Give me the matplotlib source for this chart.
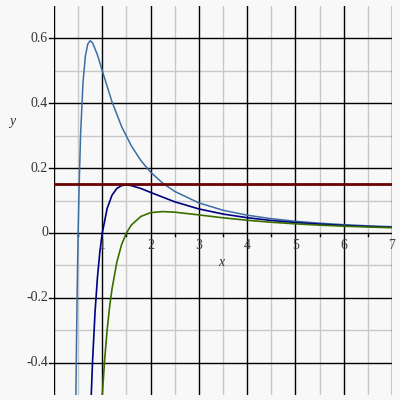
import matplotlib

matplotlib.use("Agg")

import matplotlib.pyplot as plt
import numpy as np

# curve samples
x_light = [0.453, 0.46, 0.47, 0.48, 0.49, 0.50, 0.52, 0.55, 0.60, 0.65, 0.70, 0.75,
           0.80, 0.90, 1.0, 1.2, 1.4, 1.6, 1.8, 2.0, 2.25, 2.5, 3.0, 3.5, 4.0,
           4.5, 5.0, 5.5, 6.0, 6.5, 7.0]
y_light = [-0.50, -0.411, -0.289, -0.181, -0.085, 0.0, 0.142, 0.301, 0.463, 0.546,
           0.583, 0.593, 0.586, 0.549, 0.50, 0.405, 0.328, 0.269, 0.223, 0.1875,
           0.1536, 0.128, 0.0926, 0.070, 0.0547, 0.0439, 0.036, 0.030, 0.0255,
           0.0218, 0.019]

x_navy = [0.77, 0.80, 0.85, 0.90, 0.95, 1.0, 1.1, 1.2, 1.3, 1.4, 1.5, 1.6, 1.8,
          2.0, 2.5, 3.0, 3.5, 4.0, 4.5, 5.0, 5.5, 6.0, 6.5, 7.0]
y_navy = [-0.504, -0.391, -0.244, -0.137, -0.058, 0.0, 0.075, 0.116, 0.137, 0.146,
          0.148, 0.146, 0.137, 0.125, 0.096, 0.074, 0.0583, 0.0469, 0.0384, 0.032,
          0.027, 0.0231, 0.020, 0.0175]

x_green = [1.0, 1.05, 1.1, 1.15, 1.2, 1.3, 1.4, 1.5, 1.6, 1.8, 2.0, 2.25, 2.5,
           3.0, 3.5, 4.0, 4.5, 5.0, 5.5, 6.0, 6.5, 7.0]
y_green = [-0.50, -0.389, -0.30, -0.23, -0.174, -0.091, -0.036, 0.0, 0.024, 0.051,
           0.0625, 0.0658, 0.064, 0.0556, 0.0466, 0.039, 0.0329, 0.028, 0.024,
           0.0208, 0.0182, 0.016]

level = 0.15

x_ticks = [1, 2, 3, 4, 5, 6, 7]
y_ticks = [-0.4, -0.2, 0.0, 0.2, 0.4, 0.6]
y_tick_labels = ["-0.4", "-0.2", "0", "0.2", "0.4", "0.6"]

bg = "#f8f8f8"
fig = plt.figure(figsize=(4, 4), dpi=100, facecolor=bg)
ax = fig.add_axes([0.135, 0.0125, 0.845, 0.9725], facecolor=bg)
ax.set_xlim(0, 7)
ax.set_ylim(-0.5, 0.7)

# grid
for v in np.arange(0.5, 7.0, 1.0):
    ax.axvline(v, color="#c8c8c8", lw=1, zorder=1)
for v in [-0.3, -0.1, 0.1, 0.3, 0.5]:
    ax.axhline(v, color="#c8c8c8", lw=1, zorder=1)
for v in range(0, 8):
    ax.axvline(v, color="black", lw=1, zorder=2)
for v in y_ticks:
    ax.axhline(v, color="black", lw=1, zorder=2)

ax.plot(x_light, y_light, color="#3a6ea5", lw=1.1, zorder=4)
ax.plot(x_navy, y_navy, color="#000080", lw=1.2, zorder=4)
ax.plot(x_green, y_green, color="#3a6e00", lw=1.2, zorder=4)
ax.axhline(level, color="#6b0000", lw=2, zorder=5)

for s in ax.spines.values():
    s.set_visible(False)
ax.set_xticks([])
ax.set_yticks([])

serif = ["Liberation Serif", "DejaVu Serif"]
for v, lab in zip(y_ticks, y_tick_labels):
    ax.text(-0.125, v, lab, ha="right", va="center",
            fontsize=10, family=serif, color="#333333", clip_on=False)
    ax.plot([-0.1, 0], [v, v], color="black", lw=1, zorder=3, clip_on=False)
for v in x_ticks:
    ax.text(v, -0.02, str(v), ha="center", va="top", fontsize=10,
            family=serif, color="#444444")
# minor ticks on the x axis
for v in np.arange(0.5, 7.0, 1.0):
    ax.plot([v, v], [0, -0.01], color="black", lw=1, zorder=3)

ax.text(3.47, -0.09, "x", ha="center", va="center", fontsize=10,
        family=serif, style="italic", color="#333333")
fig.text(12 / 400, 1 - 121 / 400, "y", ha="center", va="center", fontsize=10,
         family=serif, style="italic", color="#333333")

fig.savefig("out.png", dpi=100, facecolor=bg)
